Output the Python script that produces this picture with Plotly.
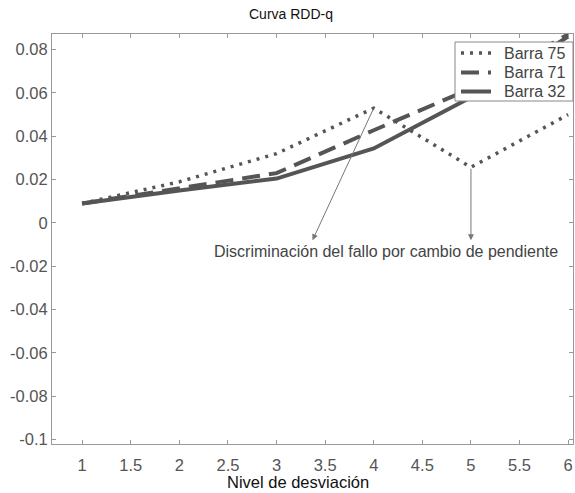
import plotly.graph_objects as go

# ---- data ----
nivel = [1, 2, 3, 4, 5, 6]
barra75 = [0.009, 0.019, 0.032, 0.053, 0.0257, 0.050]
barra71 = [0.009, 0.016, 0.023, 0.0428, 0.062, 0.087]
barra32 = [0.009, 0.015, 0.0205, 0.0344, 0.058, 0.086]
series_names = ["Barra 75", "Barra 71", "Barra 32"]

x_tickvals = [1, 1.5, 2, 2.5, 3, 3.5, 4, 4.5, 5, 5.5, 6]
x_ticktext = ["1", "1.5", "2", "2.5", "3", "3.5", "4", "4.5", "5", "5.5", "6"]
y_tickvals = [-0.1, -0.08, -0.06, -0.04, -0.02, 0, 0.02, 0.04, 0.06, 0.08]
y_ticktext = ["-0.1", "-0.08", "-0.06", "-0.04", "-0.02", "0", "0.02", "0.04", "0.06", "0.08"]

title_text = "Curva RDD-q"
xlabel = "Nivel de desviación"
note_text = "Discriminación del fallo por cambio de pendiente"
# arrow tails sit on the points where the slope changes (Barra 75 at x=4 and x=5)
arrow_tails = [(4, 0.053), (5, 0.0257)]
arrow_heads = [(3.37, -0.008), (5, -0.008)]
note_pos = (2.34, -0.0131)

line_col = "#555555"
font_fam = "Liberation Sans, Arial, sans-serif"
styles = [dict(color=line_col, width=3.5, dash="3px,6px"),
          dict(color=line_col, width=4, dash="18px,9px"),
          dict(color=line_col, width=4, dash="solid")]

# plot-area geometry (pixels) used to place paper-referenced items
W, H = 575, 493
L, R, T, B = 52, 2, 34, 49
PW, PH = W - L - R, H - T - B


def px(xp):
    return (xp - L) / PW


def py(yp):
    return (H - B - yp) / PH


fig = go.Figure()
for name, ys, st in zip(series_names, [barra75, barra71, barra32], styles):
    fig.add_trace(go.Scatter(x=nivel, y=ys, mode="lines", name=name,
                             line=st, showlegend=False))

annotations = []
for (tx, ty), (hx, hy) in zip(arrow_tails, arrow_heads):
    annotations.append(dict(x=hx, y=hy, ax=tx, ay=ty, xref="x", yref="y",
                            axref="x", ayref="y", text="", showarrow=True,
                            arrowhead=2, arrowsize=1.2, arrowwidth=1,
                            arrowcolor="#777777", standoff=0, startstandoff=0))
annotations.append(dict(x=note_pos[0], y=note_pos[1], xref="x", yref="y",
                        text=note_text, showarrow=False, xanchor="left",
                        yanchor="middle",
                        font=dict(family=font_fam, size=16, color="#444444")))
# x-axis title (slightly left of plot centre, as in the original)
annotations.append(dict(x=px(298), y=py(482), xref="paper", yref="paper",
                        text=xlabel, showarrow=False, xanchor="center", yanchor="middle",
                        font=dict(family=font_fam, size=16.5, color="#111111")))

# legend box drawn as shapes + text
shapes = [dict(type="rect", xref="paper", yref="paper",
               x0=px(455), x1=px(573), y0=py(101), y1=py(42),
               fillcolor="white", line=dict(color="#888888", width=1), layer="above")]
leg_rows = [53, 72.5, 91.5]
for name, st, yr in zip(series_names, styles, leg_rows):
    shapes.append(dict(type="line", xref="paper", yref="paper",
                       x0=px(461), x1=px(491), y0=py(yr), y1=py(yr),
                       line=dict(color=st["color"], width=st["width"], dash=st["dash"]),
                       layer="above"))
    annotations.append(dict(x=px(502), y=py(yr), xref="paper", yref="paper",
                            text=name, showarrow=False, xanchor="left", yanchor="middle",
                            font=dict(family=font_fam, size=16, color="#444444")))

axis_common = dict(showline=True, linecolor="#999999", linewidth=1, mirror="ticks",
                   ticks="inside", ticklen=4, tickcolor="#999999", showgrid=False,
                   zeroline=False, tickfont=dict(family=font_fam, size=16.5, color="#555555"))

fig.update_layout(
    width=W, height=H,
    margin=dict(l=L, r=R, t=T, b=B),
    paper_bgcolor="white", plot_bgcolor="white",
    title=dict(text=title_text, x=291 / W, xref="container", xanchor="center",
               y=1 - 14 / H, yref="container", yanchor="middle",
               font=dict(family=font_fam, size=14, color="#111111")),
    xaxis=dict(range=[0.69, 6.05], tickmode="array", tickvals=x_tickvals,
               ticktext=x_ticktext, ticklabelstandoff=6, **axis_common),
    yaxis=dict(range=[-0.102, 0.0872], tickmode="array", tickvals=y_tickvals,
               ticktext=y_ticktext, **axis_common),
    annotations=annotations,
    shapes=shapes,
    showlegend=False,
)

fig.write_html("out.html")
